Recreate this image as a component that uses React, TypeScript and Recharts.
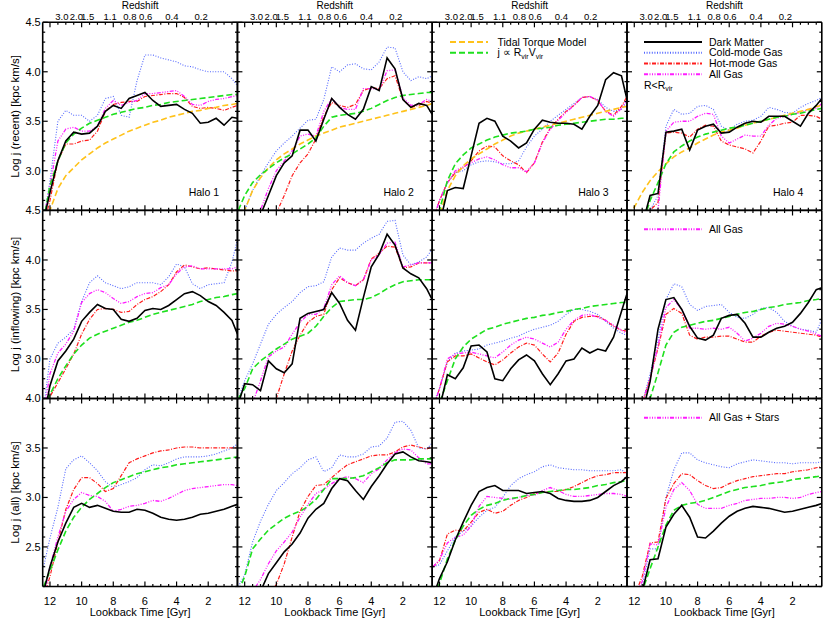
import React from 'react';
import { LineChart, Line, XAxis, YAxis } from 'recharts';

// lookback time [Gyr] sample points (x of every curve)
const lookback = [12.4, 12.0, 11.5, 11.0, 10.5, 10.0, 9.5, 9.0, 8.5, 8.0, 7.5, 7.0, 6.5, 6.0, 5.5, 5.0, 4.5, 4.0, 3.5, 3.0, 2.5, 2.0, 1.5, 1.0, 0.5, 0.15];

const redshiftLabels = ['3.0', '2.0', '1.5', '1.1', '0.8', '0.6', '0.4', '0.2'];
const redshiftAt = [11.25, 10.33, 9.62, 8.2, 6.95, 5.95, 4.3, 2.45];

const haloNames = ['Halo 1', 'Halo 2', 'Halo 3', 'Halo 4'];
const rowTitles = ['Log j (recent) [kpc km/s]', 'Log j (inflowing) [kpc km/s]', 'Log j (all) [kpc km/s]'];
const rowDomains = [[2.6, 4.5], [2.6, 4.5], [2.1, 4.0]];
const rowMajor = [[3.0, 3.5, 4.0, 4.5], [3.0, 3.5, 4.0, 4.5], [2.5, 3.0, 3.5, 4.0]];
const xMajor = [2, 4, 6, 8, 10, 12];

// ---- recent (R < Rvir) ----
const dmRecent = [
  [2.5, 2.78, 3.1, 3.3, 3.39, 3.37, 3.38, 3.45, 3.6, 3.66, 3.63, 3.73, 3.76, 3.79, 3.71, 3.65, 3.66, 3.67, 3.62, 3.58, 3.48, 3.49, 3.53, 3.46, 3.54, 3.53],
  [2.3, 2.4, 2.5, 2.55, 2.75, 2.95, 3.08, 3.15, 3.41, 3.41, 3.3, 3.52, 3.73, 3.64, 3.57, 3.52, 3.62, 3.85, 3.81, 4.14, 4.03, 3.72, 3.64, 3.68, 3.66, 3.57],
  [2.3, 2.45, 2.8, 2.83, 2.82, 3.15, 3.48, 3.53, 3.5, 3.35, 3.3, 3.23, 3.28, 3.42, 3.51, 3.49, 3.48, 3.48, 3.47, 3.42, 3.55, 3.66, 3.92, 3.99, 3.96, 3.72],
  [2.3, 2.4, 2.45, 2.75, 2.77, 3.39, 3.4, 3.42, 3.21, 3.41, 3.45, 3.47, 3.38, 3.39, 3.44, 3.48, 3.5, 3.49, 3.55, 3.55, 3.55, 3.5, 3.45, 3.58, 3.66, 3.73],
];
const coldRecent = [
  [2.5, 2.9, 3.5, 3.61, 3.56, 3.56, 3.5, 3.56, 3.73, 3.75, 3.56, 3.54, 3.91, 4.17, 4.17, 4.14, 4.12, 4.1, 4.06, 4.05, 4.02, 4.0, 4.0, 4.0, 3.93, 3.86],
  [2.5, 2.6, 2.8, 2.95, 3.08, 3.2, 3.28, 3.35, 3.43, 3.51, 3.52, 3.72, 4.05, 4.0, 4.07, 4.08, 4.03, 4.02, 4.1, 4.25, 4.24, 4.0, 3.91, 3.95, 3.93, 3.96],
  [2.5, 2.7, 2.88, 2.98, 3.0, 3.06, 3.09, 3.1, 3.09, 3.07, 3.07, 3.1, 3.24, 3.35, 3.42, 3.5, 3.56, 3.62, 3.68, 3.74, 3.75, 3.72, 3.64, 3.6, 3.62, 3.7],
  [2.3, 2.35, 2.45, 2.6, 2.75, 3.45, 3.62, 3.57, 3.58, 3.65, 3.66, 3.62, 3.45, 3.41, 3.47, 3.5, 3.51, 3.55, 3.64, 3.62, 3.59, 3.58, 3.64, 3.68, 3.71, 3.74],
];
const hotRecent = [
  [2.45, 2.7, 3.1, 3.27, 3.27, 3.3, 3.31, 3.4, 3.6, 3.67, 3.69, 3.7, 3.7, 3.75, 3.76, 3.77, 3.78, 3.78, 3.74, 3.65, 3.63, 3.64, 3.63, 3.61, 3.64, 3.66],
  [2.2, 2.22, 2.25, 2.28, 2.4, 2.57, 2.75, 2.95, 3.08, 3.17, 3.32, 3.55, 3.69, 3.66, 3.64, 3.67, 3.81, 3.84, 3.83, 3.93, 3.96, 3.72, 3.64, 3.66, 3.7, 3.68],
  [2.5, 2.7, 2.88, 2.98, 3.03, 3.1, 3.2, 3.25, 3.24, 3.15, 3.1, 3.06, 2.98, 3.08, 3.29, 3.43, 3.52, 3.6, 3.66, 3.74, 3.75, 3.71, 3.6, 3.56, 3.65, 3.75],
  [2.3, 2.35, 2.45, 2.6, 2.68, 3.38, 3.39, 3.38, 3.34, 3.42, 3.46, 3.45, 3.3, 3.26, 3.24, 3.22, 3.18, 3.3, 3.45, 3.46, 3.48, 3.49, 3.56, 3.56, 3.55, 3.52],
];
const gasRecent = [
  [2.5, 2.85, 3.3, 3.42, 3.44, 3.4, 3.4, 3.45, 3.63, 3.71, 3.66, 3.69, 3.71, 3.78, 3.78, 3.79, 3.8, 3.81, 3.75, 3.67, 3.66, 3.7, 3.72, 3.73, 3.75, 3.76],
  [2.3, 2.4, 2.5, 2.6, 2.82, 3.0, 3.1, 3.2, 3.35, 3.37, 3.35, 3.6, 3.73, 3.64, 3.62, 3.62, 3.83, 3.83, 3.82, 4.01, 4.02, 3.74, 3.66, 3.67, 3.72, 3.7],
  [2.5, 2.7, 2.88, 3.0, 3.04, 3.08, 3.12, 3.14, 3.11, 3.06, 3.03, 3.03, 2.99, 3.08, 3.28, 3.42, 3.51, 3.59, 3.66, 3.74, 3.75, 3.71, 3.6, 3.55, 3.63, 3.72],
  [2.3, 2.35, 2.45, 2.55, 2.6, 3.4, 3.49, 3.5, 3.5, 3.55, 3.58, 3.57, 3.35, 3.28, 3.32, 3.36, 3.35, 3.35, 3.46, 3.53, 3.55, 3.57, 3.59, 3.62, 3.63, 3.68],
];
const rvRecent = [
  [2.5, 2.85, 3.1, 3.28, 3.37, 3.43, 3.48, 3.51, 3.54, 3.57, 3.59, 3.61, 3.63, 3.64, 3.66, 3.67, 3.69, 3.7, 3.71, 3.72, 3.73, 3.74, 3.75, 3.76, 3.77, 3.77],
  [2.6, 2.75, 2.88, 2.96, 3.02, 3.08, 3.13, 3.17, 3.22, 3.27, 3.33, 3.45, 3.54, 3.56, 3.57, 3.58, 3.6, 3.63, 3.67, 3.71, 3.74, 3.76, 3.77, 3.78, 3.79, 3.79],
  [2.5, 2.6, 2.9, 3.07, 3.16, 3.23, 3.27, 3.31, 3.34, 3.36, 3.38, 3.39, 3.4, 3.42, 3.43, 3.44, 3.46, 3.47, 3.48, 3.49, 3.5, 3.51, 3.52, 3.52, 3.53, 3.53],
  [2.3, 2.35, 2.45, 2.7, 2.88, 3.07, 3.19, 3.25, 3.3, 3.34, 3.37, 3.39, 3.41, 3.43, 3.44, 3.46, 3.48, 3.5, 3.52, 3.54, 3.55, 3.57, 3.58, 3.6, 3.62, 3.63],
];
const ttRecent = [
  [2.4, 2.6, 2.82, 2.95, 3.03, 3.11, 3.17, 3.23, 3.28, 3.32, 3.36, 3.4, 3.43, 3.46, 3.49, 3.51, 3.54, 3.56, 3.58, 3.6, 3.61, 3.63, 3.64, 3.66, 3.67, 3.68],
  [2.5, 2.6, 2.8, 2.93, 3.03, 3.11, 3.17, 3.22, 3.27, 3.31, 3.35, 3.38, 3.41, 3.44, 3.46, 3.48, 3.5, 3.52, 3.54, 3.56, 3.58, 3.6, 3.62, 3.64, 3.66, 3.68],
  [2.4, 2.55, 2.8, 2.95, 3.05, 3.12, 3.17, 3.22, 3.27, 3.31, 3.35, 3.38, 3.4, 3.42, 3.44, 3.46, 3.48, 3.5, 3.52, 3.54, 3.56, 3.58, 3.6, 3.62, 3.64, 3.65],
  [2.55, 2.63, 2.78, 2.9, 2.99, 3.07, 3.14, 3.19, 3.23, 3.28, 3.32, 3.36, 3.39, 3.41, 3.43, 3.46, 3.48, 3.5, 3.52, 3.54, 3.56, 3.58, 3.6, 3.62, 3.65, 3.66],
];

// ---- inflowing ----
const dmInflow = [
  [2.4, 2.73, 2.98, 3.08, 3.2, 3.38, 3.47, 3.55, 3.51, 3.5, 3.4, 3.38, 3.41, 3.49, 3.51, 3.5, 3.54, 3.6, 3.66, 3.68, 3.64, 3.58, 3.54, 3.47, 3.39, 3.25],
  [2.55, 2.75, 2.74, 2.68, 2.98, 2.9, 2.86, 2.95, 3.41, 3.46, 3.48, 3.5, 3.67, 3.56, 3.39, 3.29, 3.62, 3.93, 4.06, 4.26, 4.15, 3.92, 3.86, 3.82, 3.71, 3.6],
  [2.3, 2.5, 2.84, 2.8, 2.91, 3.13, 3.14, 3.07, 2.8, 2.78, 2.9, 2.99, 3.04, 2.98, 2.85, 2.74, 2.85, 2.98, 3.0, 3.11, 3.06, 3.1, 3.08, 3.22, 3.48, 3.66],
  [2.3, 2.3, 2.45, 2.77, 3.3, 3.6, 3.62, 3.5, 3.33, 3.21, 3.19, 3.24, 3.41, 3.44, 3.45, 3.36, 3.22, 3.22, 3.27, 3.31, 3.33, 3.37, 3.46, 3.57, 3.7, 3.72],
];
const coldInflow = [
  [2.5, 3.0, 3.16, 3.22, 3.3, 3.58, 3.77, 3.84, 3.77, 3.74, 3.71, 3.73, 3.77, 3.77, 3.77, 3.75, 3.83, 3.96, 3.93, 3.76, 3.71, 3.75, 3.76, 3.77, 3.98, 4.21],
  [2.6, 2.78, 2.95, 3.15, 3.35, 3.45, 3.52, 3.58, 3.67, 3.73, 3.74, 3.78, 4.03, 4.12, 4.1, 4.1, 4.17, 4.22, 4.26, 4.39, 4.4, 4.05, 3.95, 3.98, 4.03, 4.11],
  [2.55, 2.7, 2.97, 3.06, 3.08, 3.09, 3.1, 3.14, 3.16, 3.18, 3.21, 3.23, 3.27, 3.3, 3.32, 3.34, 3.38, 3.45, 3.5, 3.5, 3.48, 3.45, 3.38, 3.31, 3.26, 3.24],
  [2.3, 2.4, 2.55, 2.85, 3.2, 3.6, 3.76, 3.73, 3.55, 3.49, 3.53, 3.54, 3.55, 3.47, 3.42, 3.41, 3.45, 3.51, 3.52, 3.47, 3.38, 3.33, 3.3, 3.29, 3.27, 3.4],
];
const hotInflow = [
  [2.4, 2.62, 2.76, 2.9, 3.05, 3.25, 3.4, 3.5, 3.51, 3.5, 3.47, 3.48, 3.55, 3.6, 3.63, 3.68, 3.75, 3.88, 3.95, 3.93, 3.91, 3.92, 3.91, 3.9, 3.89, 3.89],
  [2.2, 2.25, 2.3, 2.35, 2.42, 2.6, 2.85, 3.08, 3.24, 3.37, 3.43, 3.45, 3.7, 3.82, 3.77, 3.74, 3.8, 4.01, 4.07, 4.14, 4.13, 3.92, 3.93, 3.97, 3.97, 3.97],
  [2.5, 2.7, 2.97, 3.03, 3.03, 3.05, 3.01, 2.97, 2.94, 2.99, 3.06, 3.12, 3.16, 3.14, 3.05, 2.97, 3.06, 3.25, 3.38, 3.42, 3.43, 3.43, 3.39, 3.33, 3.29, 3.28],
  [2.3, 2.4, 2.55, 2.8, 3.11, 3.45, 3.51, 3.46, 3.24, 3.2, 3.22, 3.22, 3.23, 3.23, 3.2, 3.17, 3.17, 3.23, 3.27, 3.29, 3.28, 3.27, 3.26, 3.25, 3.24, 3.22],
];
const gasInflow = [
  [2.45, 2.85, 3.06, 3.15, 3.28, 3.57, 3.66, 3.7, 3.67, 3.61, 3.56, 3.58, 3.63, 3.66, 3.67, 3.72, 3.75, 3.86, 3.93, 3.94, 3.91, 3.91, 3.91, 3.91, 3.91, 3.93],
  [2.3, 2.4, 2.55, 2.78, 3.02, 3.08, 3.12, 3.25, 3.37, 3.45, 3.45, 3.51, 3.75, 3.84, 3.77, 3.74, 3.8, 4.0, 4.05, 4.17, 4.18, 3.93, 3.95, 3.97, 3.97, 3.97],
  [2.5, 2.7, 3.0, 3.05, 3.06, 3.07, 3.05, 3.03, 3.01, 3.07, 3.14, 3.19, 3.22, 3.2, 3.16, 3.12, 3.17, 3.3, 3.39, 3.44, 3.45, 3.42, 3.39, 3.34, 3.29, 3.26],
  [2.3, 2.4, 2.55, 2.8, 3.13, 3.52, 3.6, 3.5, 3.31, 3.31, 3.3, 3.31, 3.3, 3.32, 3.26, 3.18, 3.21, 3.26, 3.33, 3.36, 3.35, 3.33, 3.3, 3.28, 3.25, 3.23],
];
const rvInflow = [
  [2.5, 2.64, 2.8, 2.93, 3.05, 3.14, 3.21, 3.25, 3.28, 3.31, 3.34, 3.37, 3.39, 3.42, 3.45, 3.47, 3.49, 3.51, 3.53, 3.55, 3.58, 3.6, 3.62, 3.63, 3.65, 3.66],
  [2.6, 2.7, 2.9, 2.98, 3.04, 3.1, 3.15, 3.2, 3.23, 3.26, 3.33, 3.43, 3.52, 3.58, 3.59, 3.6, 3.6, 3.62, 3.66, 3.71, 3.75, 3.78, 3.79, 3.8, 3.8, 3.8],
  [2.4, 2.55, 2.78, 3.0, 3.12, 3.2, 3.25, 3.3, 3.32, 3.35, 3.37, 3.39, 3.41, 3.42, 3.44, 3.45, 3.47, 3.48, 3.5, 3.51, 3.53, 3.54, 3.55, 3.56, 3.57, 3.57],
  [2.3, 2.35, 2.45, 2.6, 2.86, 3.14, 3.27, 3.32, 3.34, 3.36, 3.38, 3.39, 3.41, 3.43, 3.45, 3.47, 3.48, 3.5, 3.52, 3.53, 3.55, 3.56, 3.57, 3.59, 3.6, 3.61],
];

// ---- all (gas + stars) ----
const dmAll = [
  [2.05, 2.3, 2.55, 2.74, 2.9, 2.94, 2.9, 2.92, 2.89, 2.86, 2.85, 2.85, 2.88, 2.87, 2.84, 2.8, 2.78, 2.77, 2.78, 2.8, 2.83, 2.84, 2.86, 2.88, 2.91, 2.93],
  [1.9, 1.95, 2.0, 2.05, 2.23, 2.34, 2.45, 2.53, 2.64, 2.79, 2.88, 2.94, 3.09, 3.19, 3.17, 3.07, 2.98, 3.11, 3.22, 3.34, 3.44, 3.46, 3.41, 3.37, 3.36, 3.35],
  [2.0, 2.18, 2.35, 2.57, 2.75, 2.92, 3.06, 3.1, 3.12, 3.07, 3.07, 3.07, 3.04, 3.05, 3.06, 3.04, 2.99, 2.97, 2.96, 2.96, 2.97, 3.0, 3.06, 3.12, 3.16, 3.21],
  [1.9, 2.0, 2.05, 2.37, 2.38, 2.7, 2.83, 2.92, 2.8, 2.6, 2.59, 2.66, 2.74, 2.81, 2.86, 2.89, 2.91, 2.9, 2.89, 2.87, 2.85, 2.86, 2.88, 2.9, 2.92, 2.94],
];
const coldAll = [
  [2.3, 2.59, 2.9, 3.29, 3.38, 3.42, 3.35, 3.27, 3.16, 3.1, 3.13, 3.16, 3.2, 3.28, 3.33, 3.32, 3.35, 3.39, 3.41, 3.41, 3.41, 3.42, 3.44, 3.47, 3.5, 3.54],
  [2.1, 2.22, 2.55, 2.76, 2.93, 3.07, 3.15, 3.24, 3.3, 3.38, 3.41, 3.26, 3.3, 3.43, 3.41, 3.41, 3.44, 3.51, 3.52, 3.6, 3.76, 3.77, 3.68, 3.5, 3.49, 3.55],
  [2.3, 2.32, 2.46, 2.6, 2.66, 2.71, 2.8, 2.87, 2.9, 3.0, 3.12, 3.19, 3.23, 3.26, 3.31, 3.33, 3.3, 3.29, 3.28, 3.28, 3.27, 3.27, 3.27, 3.27, 3.28, 3.24],
  [1.9, 2.0, 2.1, 2.48, 2.48, 3.0, 3.28, 3.45, 3.45, 3.38, 3.35, 3.33, 3.31, 3.3, 3.34, 3.36, 3.38, 3.37, 3.36, 3.35, 3.35, 3.34, 3.35, 3.35, 3.35, 3.36],
];
const hotAll = [
  [2.0, 2.2, 2.55, 2.88, 3.08, 3.2, 3.2, 3.14, 3.06, 3.09, 3.22, 3.35, 3.39, 3.42, 3.45, 3.47, 3.48, 3.5, 3.51, 3.51, 3.5, 3.5, 3.5, 3.5, 3.5, 3.5],
  [1.8, 1.85, 1.9, 1.95, 2.0, 2.12, 2.33, 2.6, 2.86, 3.01, 3.12, 3.13, 3.2, 3.27, 3.33, 3.36, 3.39, 3.42, 3.43, 3.43, 3.46, 3.51, 3.53, 3.51, 3.49, 3.51],
  [2.3, 2.36, 2.63, 2.67, 2.66, 2.75, 2.85, 2.88, 2.84, 2.86, 2.92, 2.97, 3.0, 3.04, 3.05, 3.06, 3.06, 3.08, 3.11, 3.15, 3.19, 3.22, 3.23, 3.25, 3.25, 3.25],
  [1.9, 2.0, 2.2, 2.54, 2.55, 2.99, 3.14, 3.24, 3.23, 3.17, 3.12, 3.09, 3.1, 3.14, 3.17, 3.19, 3.21, 3.22, 3.23, 3.24, 3.24, 3.26, 3.27, 3.28, 3.3, 3.31],
];
const gasAll = [
  [2.0, 2.3, 2.6, 2.86, 2.98, 3.05, 3.02, 3.01, 2.96, 2.86, 2.88, 2.91, 2.92, 2.94, 2.97, 2.96, 2.99, 3.03, 3.07, 3.09, 3.1, 3.11, 3.12, 3.13, 3.13, 3.12],
  [1.9, 1.95, 2.05, 2.17, 2.33, 2.46, 2.55, 2.65, 2.8, 2.93, 3.04, 3.08, 3.14, 3.19, 3.21, 3.19, 3.15, 3.24, 3.29, 3.38, 3.45, 3.49, 3.48, 3.4, 3.34, 3.34],
  [2.3, 2.37, 2.54, 2.6, 2.62, 2.71, 2.91, 3.01, 3.0, 2.99, 2.98, 3.0, 3.02, 3.02, 3.07, 3.1, 3.07, 3.03, 3.01, 3.01, 3.02, 3.03, 3.04, 3.04, 3.03, 3.01],
  [1.9, 2.0, 2.15, 2.53, 2.52, 2.9, 3.08, 3.15, 3.07, 2.93, 2.89, 2.89, 2.89, 2.92, 2.94, 2.97, 2.98, 2.99, 2.99, 3.0, 3.0, 2.99, 3.0, 3.03, 3.05, 3.06],
];
const rvAll = [
  [2.1, 2.26, 2.47, 2.66, 2.8, 2.9, 2.98, 3.04, 3.1, 3.15, 3.18, 3.21, 3.24, 3.26, 3.28, 3.3, 3.31, 3.33, 3.34, 3.35, 3.36, 3.37, 3.38, 3.39, 3.4, 3.41],
  [2.05, 2.2, 2.48, 2.58, 2.67, 2.73, 2.79, 2.83, 2.86, 2.91, 2.98, 3.08, 3.19, 3.19, 3.19, 3.2, 3.22, 3.26, 3.3, 3.35, 3.38, 3.38, 3.38, 3.39, 3.39, 3.39],
  [2.0, 2.13, 2.38, 2.57, 2.71, 2.82, 2.88, 2.92, 2.94, 2.97, 2.99, 3.0, 3.02, 3.03, 3.05, 3.06, 3.07, 3.08, 3.08, 3.09, 3.1, 3.12, 3.13, 3.15, 3.16, 3.17],
  [1.9, 1.95, 2.05, 2.28, 2.5, 2.72, 2.87, 2.92, 2.94, 2.95, 2.97, 3.0, 3.03, 3.06, 3.08, 3.1, 3.11, 3.12, 3.14, 3.15, 3.16, 3.18, 3.19, 3.2, 3.21, 3.22],
];

const rowSets: Record<string, number[][]>[] = [
  { cold: coldRecent, hot: hotRecent, gas: gasRecent, tt: ttRecent, rv: rvRecent, dm: dmRecent },
  { cold: coldInflow, hot: hotInflow, gas: gasInflow, rv: rvInflow, dm: dmInflow },
  { cold: coldAll, hot: hotAll, gas: gasAll, rv: rvAll, dm: dmAll },
];

const FONT = '"Liberation Sans", Arial, Helvetica, sans-serif';
const W = 830;
const H = 623;
const colX = [42.7, 237.4, 432.2, 627.0];
const PW = 194.8;
const rowY = [22.3, 210.5, 398.5];
const PH = 188;

const styles: Record<string, any> = {
  cold: { stroke: '#5468ff', strokeWidth: 1.1, strokeDasharray: '1 1.6' },
  hot: { stroke: '#ff1c1c', strokeWidth: 1.2, strokeDasharray: '4 1.5 1 1.5' },
  gas: { stroke: '#ff1cff', strokeWidth: 1.3, strokeDasharray: '4 1.5 1 1.5 1 1.5 1 1.5' },
  tt: { stroke: '#ffc21a', strokeWidth: 1.6, strokeDasharray: '6 3' },
  rv: { stroke: '#1ee01e', strokeWidth: 1.6, strokeDasharray: '6 3' },
  dm: { stroke: '#000000', strokeWidth: 1.6 },
};
const drawOrder = ['cold', 'hot', 'gas', 'tt', 'rv', 'dm'];

const xTicks = Array.from({ length: 24 }, (_, i) => (i + 1) * 0.5);
const yTicksFor = (lo: number, hi: number) =>
  Array.from({ length: Math.round((hi - lo) / 0.1) + 1 }, (_, i) => Math.round((lo + i * 0.1) * 10) / 10);

const isMajor = (v: number, majors: number[]) => majors.some((m) => Math.abs(m - v) < 1e-6);

const makeTick = (side: string, majors: number[], labels: boolean) => (props: any) => {
  const { x, y, payload } = props;
  const v = payload.value as number;
  const zi = redshiftAt.indexOf(v);
  if (side === 'top' && zi >= 0) {
    // redshift labels share the top axis (only shown on the first row)
    return labels ? (
      <text x={x} y={y - 2.5} textAnchor="middle" fontSize={9.5} fontFamily={FONT} fill="#000">
        {redshiftLabels[zi]}
      </text>
    ) : <g />;
  }
  const major = isMajor(v, majors);
  const len = major ? 5 : 2.5;
  let l = { x1: x, y1: y, x2: x, y2: y };
  if (side === 'left') l = { x1: x, y1: y, x2: x + len, y2: y };
  if (side === 'right') l = { x1: x, y1: y, x2: x - len, y2: y };
  if (side === 'top') l = { x1: x, y1: y, x2: x, y2: y + len };
  if (side === 'bottom') l = { x1: x, y1: y, x2: x, y2: y - len };
  return (
    <g>
      <line {...l} stroke="#000" strokeWidth={1.2} />
      {labels && major && side === 'left' && (
        <text x={x - 2} y={y} dy="0.36em" textAnchor="end" fontSize={11} fontFamily={FONT} fill="#000">
          {v.toFixed(1)}
        </text>
      )}
      {labels && major && side === 'bottom' && (
        <text x={x} y={y + 18} textAnchor="middle" fontSize={11} fontFamily={FONT} fill="#000">
          {v}
        </text>
      )}
    </g>
  );
};

const frame = { stroke: '#000', strokeWidth: 1.6 };

function Panel({ row, col }: { row: number; col: number }) {
  const set = rowSets[row];
  const keys = drawOrder.filter((k) => set[k]);
  const data = lookback.map((t, i) => {
    const d: Record<string, number> = { t };
    keys.forEach((k) => {
      d[k] = set[k][col][i];
    });
    return d;
  });
  const [lo, hi] = rowDomains[row];
  const yTicks = yTicksFor(lo, hi);
  const majors = rowMajor[row];
  const topTicks = row === 0 ? [...xTicks, ...redshiftAt] : xTicks;
  const margin = {
    left: colX[col] - 1,
    right: W - colX[col] - PW - 1,
    top: rowY[row] - 1,
    bottom: H - rowY[row] - PH - 1,
  };
  return (
    <div style={{ position: 'absolute', left: 0, top: 0 }}>
      <LineChart width={W} height={H} data={data} margin={margin}>
        <XAxis xAxisId="xb" dataKey="t" type="number" orientation="bottom" domain={[0.15, 12.46]} reversed
          allowDataOverflow height={1} ticks={xTicks} interval={0} tickSize={0} tickMargin={0}
          tickLine={false} axisLine={frame} tick={makeTick('bottom', xMajor, row === 2)} />
        <XAxis xAxisId="xt" dataKey="t" type="number" orientation="top" domain={[0.15, 12.46]} reversed
          allowDataOverflow height={1} ticks={topTicks} interval={0} tickSize={0} tickMargin={0}
          tickLine={false} axisLine={frame} tick={makeTick('top', xMajor, row === 0)} />
        <YAxis yAxisId="yl" type="number" orientation="left" domain={[lo, hi]} allowDataOverflow width={1}
          ticks={yTicks} interval={0} tickSize={0} tickMargin={0} tickLine={false} axisLine={frame}
          tick={makeTick('left', majors, col === 0)} />
        <YAxis yAxisId="yr" type="number" orientation="right" domain={[lo, hi]} allowDataOverflow width={1}
          ticks={yTicks} interval={0} tickSize={0} tickMargin={0} tickLine={false} axisLine={frame}
          tick={makeTick('right', majors, false)} />
        {keys.map((k) => (
          <Line key={k} xAxisId="xb" yAxisId="yl" dataKey={k} type="linear" dot={false}
            activeDot={false} isAnimationActive={false} {...styles[k]} />
        ))}
      </LineChart>
    </div>
  );
}

const LegendRow = ({ x1, x2, tx, y, k, children }: any) => (
  <g>
    <line x1={x1} x2={x2} y1={y} y2={y} {...styles[k]} strokeWidth={2} />
    <text x={tx} y={y} dy="0.36em" fontSize={10.5} fontFamily={FONT} fill="#000">
      {children}
    </text>
  </g>
);

export default function App() {
  const panels: React.ReactNode[] = [];
  for (let r = 0; r < 3; r++) for (let c = 0; c < 4; c++) panels.push(<Panel key={`${r}-${c}`} row={r} col={c} />);
  return (
    <div style={{ position: 'absolute', left: 0, top: 0, width: W, height: H, background: '#fff', fontFamily: FONT }}>
      {panels}
      <svg width={W} height={H} style={{ position: 'absolute', left: 0, top: 0, pointerEvents: 'none' }}>
        {colX.map((x, c) => (
          <g key={c}>
            <text x={x + PW / 2} y={9} textAnchor="middle" fontSize={10} fill="#000">Redshift</text>
            <text x={x + PW / 2} y={616} textAnchor="middle" fontSize={11} fill="#000">Lookback Time [Gyr]</text>
            <text x={x + 146} y={rowY[0] + 169.5} dy="0.36em" fontSize={10.5} fill="#000">{haloNames[c]}</text>
          </g>
        ))}
        {rowTitles.map((t, r) => (
          <text key={r} transform={`translate(15, ${rowY[r] + PH / 2}) rotate(-90)`} textAnchor="middle"
            dy="0.36em" fontSize={11.5} fill="#000">{t}</text>
        ))}
        <LegendRow x1={450} x2={488} tx={497.5} y={42} k="tt">Tidal Torque Model</LegendRow>
        <LegendRow x1={450} x2={488} tx={497.5} y={52.7} k="rv">
          {'j  \u221D  R'}<tspan fontSize={7} dy="2.5">vir</tspan><tspan dy="-2.5">V</tspan><tspan fontSize={7} dy="2.5">vir</tspan>
        </LegendRow>
        <LegendRow x1={644} x2={702} tx={709} y={42} k="dm">Dark Matter</LegendRow>
        <LegendRow x1={644} x2={702} tx={709} y={52.7} k="cold">Cold-mode Gas</LegendRow>
        <LegendRow x1={644} x2={702} tx={709} y={63.4} k="hot">Hot-mode Gas</LegendRow>
        <LegendRow x1={644} x2={702} tx={709} y={74.2} k="gas">All Gas</LegendRow>
        <text x={644} y={85} dy="0.36em" fontSize={10.5} fill="#000">
          {'R<R'}<tspan fontSize={7} dy="2.5">vir</tspan>
        </text>
        <LegendRow x1={644} x2={702} tx={709} y={229.3} k="gas">All Gas</LegendRow>
        <LegendRow x1={644} x2={702} tx={709} y={417.7} k="gas">All Gas + Stars</LegendRow>
      </svg>
    </div>
  );
}
